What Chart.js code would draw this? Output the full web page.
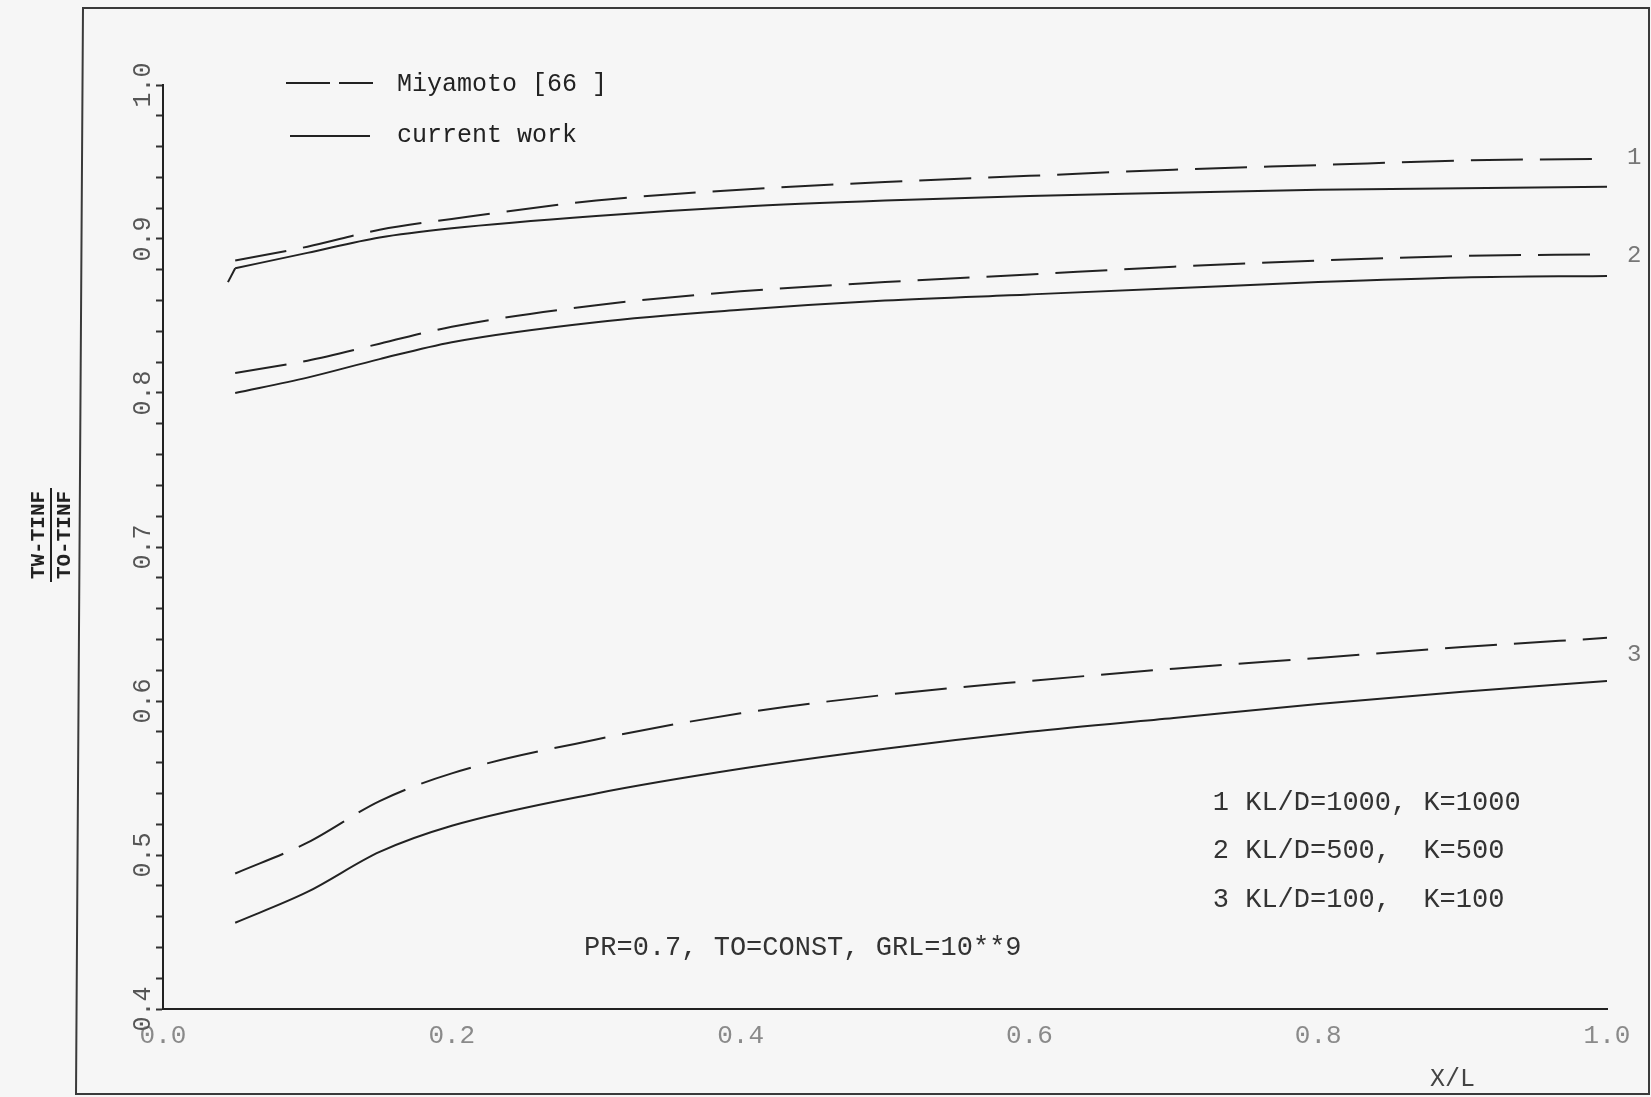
<!DOCTYPE html>
<html>
<head>
<meta charset="utf-8">
<script src="https://cdn.jsdelivr.net/npm/chart.js@4.4.0/dist/chart.umd.min.js"></script>
<style>
  html, body { margin:0; padding:0; background:#f6f6f6; }
</style>
</head>
<body>
<canvas id="myChart" width="1651" height="1097"></canvas>
<script>
var xVals = [0.05, 0.1, 0.15, 0.2, 0.3, 0.4, 0.5, 0.6, 0.7, 0.8, 0.9, 1.0];
// Miyamoto [66] (dashed) and current work (solid), curves 1..3
var miyamoto1 = [0.886, 0.895, 0.906, 0.913, 0.925, 0.932, 0.937, 0.941, 0.945, 0.948, 0.951, 0.952];
var miyamoto2 = [0.813, 0.821, 0.832, 0.843, 0.857, 0.866, 0.872, 0.877, 0.882, 0.886, 0.889, 0.890];
var miyamoto3 = [0.488, 0.508, 0.535, 0.553, 0.575, 0.592, 0.604, 0.613, 0.621, 0.628, 0.635, 0.641];
var current1 = [0.881, 0.891, 0.901, 0.907, 0.915, 0.921, 0.925, 0.928, 0.930, 0.932, 0.933, 0.934];
var current2 = [0.800, 0.810, 0.822, 0.833, 0.846, 0.854, 0.860, 0.864, 0.868, 0.872, 0.875, 0.876];
var current3 = [0.456, 0.476, 0.502, 0.519, 0.540, 0.556, 0.569, 0.580, 0.589, 0.598, 0.606, 0.613];
// little hook at the start of current-work curve 1
var hook1X = [0.045, 0.05];
var hook1 = [0.872, 0.881];
// axis ticks
var xTicks = [0.0, 0.2, 0.4, 0.6, 0.8, 1.0];
var yTicks = [0.4, 0.5, 0.6, 0.7, 0.8, 0.9, 1.0];
var curveLabels = ['1', '2', '3'];
var curveLabelY = [0.953, 0.889, 0.630];
var caseText = ['1 KL/D=1000, K=1000', '2 KL/D=500,  K=500', '3 KL/D=100,  K=100'];

var FONT = '"Liberation Mono", "DejaVu Sans Mono", monospace';
var INK = '#222';

function pts(xs, ys) {
  var tmp = [];
  for (var i = 0; i < ys.length; i++) {
    tmp.push({x: xs[i], y: ys[i]});
  }
  return tmp;
}

function line(label, d, dashed) {
  return {
    label: label,
    data: d,
    borderColor: INK,
    borderWidth: 2,
    borderDash: dashed ? [52, 17] : [],
    pointRadius: 0,
    fill: false,
    cubicInterpolationMode: 'monotone'
  };
}

var data = {
  datasets: [
    line('Miyamoto 1', pts(xVals, miyamoto1), true),
    line('Miyamoto 2', pts(xVals, miyamoto2), true),
    line('Miyamoto 3', pts(xVals, miyamoto3), true),
    line('current 1', pts(xVals, current1), false),
    line('current 2', pts(xVals, current2), false),
    line('current 3', pts(xVals, current3), false),
    line('hook 1', pts(hook1X, hook1), false)
  ]
};

// paper, frame, legend, labels
var decor = {
  id: 'decor',
  beforeDraw: function(chart) {
    var ctx = chart.ctx;
    ctx.save();
    ctx.fillStyle = '#f6f6f6';
    ctx.fillRect(0, 0, chart.width, chart.height);
    ctx.restore();
  },
  afterDraw: function(chart) {
    var ctx = chart.ctx, xs = chart.scales.x, ys = chart.scales.y;
    ctx.save();
    // outer frame (slightly skewed like the scan)
    ctx.strokeStyle = '#3a3a3a';
    ctx.lineWidth = 2;
    ctx.beginPath();
    ctx.moveTo(83, 8); ctx.lineTo(1649, 8); ctx.lineTo(1649, 1094); ctx.lineTo(76, 1094); ctx.closePath();
    ctx.stroke();

    // legend
    ctx.strokeStyle = INK;
    ctx.lineWidth = 2;
    ctx.beginPath(); ctx.moveTo(286, 83); ctx.lineTo(330, 83); ctx.moveTo(339, 83); ctx.lineTo(373, 83); ctx.stroke();
    ctx.beginPath(); ctx.moveTo(290, 136); ctx.lineTo(370, 136); ctx.stroke();
    ctx.fillStyle = INK;
    ctx.font = '25px ' + FONT;
    ctx.textBaseline = 'middle';
    ctx.textAlign = 'left';
    ctx.fillText('Miyamoto [66 ]', 397, 84);
    ctx.fillText('current work', 397, 135);

    // curve numbers on the right
    ctx.fillStyle = '#777';
    ctx.font = '24px ' + FONT;
    for (var i = 0; i < curveLabels.length; i++) {
      ctx.fillText(curveLabels[i], xs.getPixelForValue(1.0) + 20, ys.getPixelForValue(curveLabelY[i]));
    }

    // case list
    ctx.fillStyle = '#333';
    ctx.font = '27px ' + FONT;
    for (var j = 0; j < caseText.length; j++) {
      ctx.fillText(caseText[j], xs.getPixelForValue(0.727), ys.getPixelForValue(0.534 - j * 0.0315));
    }
    ctx.fillText('PR=0.7, TO=CONST, GRL=10**9', xs.getPixelForValue(0.2916), ys.getPixelForValue(0.4396));

    // x axis title
    ctx.fillStyle = '#444';
    ctx.font = '25px ' + FONT;
    ctx.textAlign = 'center';
    ctx.fillText('X/L', xs.getPixelForValue(0.893), 1079);

    // y axis title as a fraction
    ctx.translate(51, 535);
    ctx.rotate(-Math.PI / 2);
    ctx.fillStyle = INK;
    ctx.font = 'bold 21px ' + FONT;
    ctx.fillText('TW-TINF', 0, -12);
    ctx.fillText('TO-TINF', 0, 14);
    ctx.strokeStyle = INK;
    ctx.lineWidth = 2;
    ctx.beginPath(); ctx.moveTo(-47, 0); ctx.lineTo(47, 0); ctx.stroke();
    ctx.restore();
  }
};

var config = {
  type: 'line',
  data: data,
  options: {
    responsive: false,
    animation: false,
    layout: { padding: { left: 0, right: 44, top: 85, bottom: 28 } },
    plugins: {
      legend: { display: false },
      tooltip: { enabled: false },
      title: { display: false }
    },
    scales: {
      x: {
        type: 'linear',
        min: 0, max: 1.0,
        afterFit: function(s) { s.height = 60; },
        afterBuildTicks: function(s) { s.ticks = xTicks.map(function(v) { return {value: v}; }); },
        border: { display: true, color: INK, width: 2 },
        grid: { display: false, drawTicks: false },
        ticks: {
          color: '#8a8a8a',
          padding: 12,
          maxRotation: 0,
          autoSkip: false,
          font: { family: FONT, size: 26 },
          callback: function(v) { return v.toFixed(1); }
        }
      },
      y: {
        type: 'linear',
        min: 0.4, max: 1.0,
        afterFit: function(s) { s.width = 163; },
        afterBuildTicks: function(s) {
          var t = [];
          for (var k = 0; k <= 30; k++) t.push({value: Math.round((0.4 + k * 0.02) * 100) / 100});
          s.ticks = t;
        },
        border: { display: true, color: INK, width: 2 },
        grid: { display: true, drawOnChartArea: false, drawTicks: true, tickLength: 7, tickColor: '#333', tickWidth: 2 },
        ticks: {
          color: '#555',
          padding: -10,
          autoSkip: false,
          minRotation: 90, maxRotation: 90,
          crossAlign: 'center',
          font: { family: FONT, size: 25 },
          callback: function(v) {
            var r = Math.round(v * 100);
            return (r % 10 === 0 && yTicks.indexOf(r / 100) >= 0) ? (r / 100).toFixed(1) : '';
          }
        }
      }
    }
  },
  plugins: [decor]
};

var myChart = new Chart(document.getElementById('myChart'), config);
</script>
</body>
</html>
